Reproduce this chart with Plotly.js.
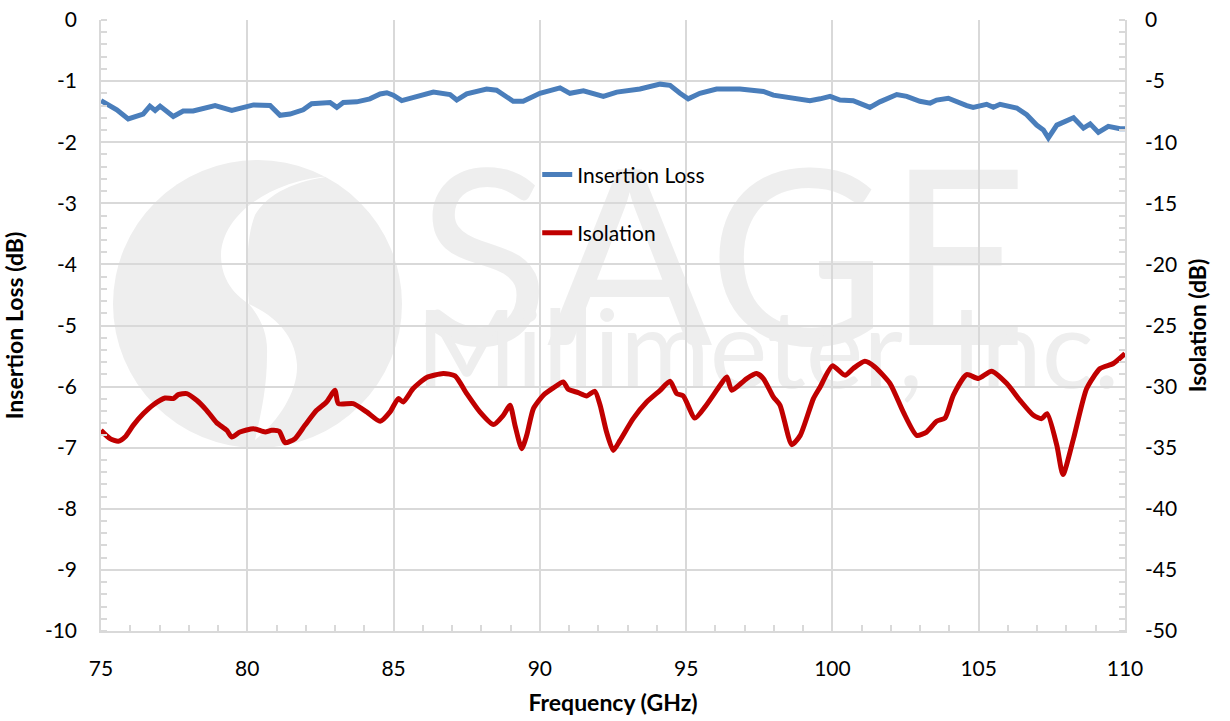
<!DOCTYPE html>
<html>
<head>
<meta charset="utf-8">
<script src="https://cdn.plot.ly/plotly-3.0.1.min.js"></script>
<style>
  html, body { margin: 0; padding: 0; background: #ffffff; }
  #wrap { position: relative; width: 1230px; height: 721px; }
  #wm, #chart { position: absolute; left: 0; top: 0; width: 1230px; height: 721px; }
  #wm { z-index: 0; }
  #chart { z-index: 1; }
</style>
</head>
<body>
<div id="wrap"><div id="wm"></div><div id="chart"></div></div>
<script>
// ---- Data ----
const ilFreq = [75.0, 75.54, 75.93, 76.44, 76.67, 76.85, 77.02, 77.47, 77.81, 78.15, 78.90, 79.47, 80.21, 80.78, 81.12, 81.46, 81.91, 82.20, 82.83, 83.06, 83.28, 83.74, 84.19, 84.54, 84.77, 84.99, 85.28, 85.56, 86.36, 86.93, 87.16, 87.50, 87.84, 88.18, 88.52, 88.87, 89.09, 89.43, 90.00, 90.69, 91.03, 91.49, 92.17, 92.63, 93.42, 94.11, 94.45, 94.79, 95.07, 95.47, 96.04, 96.84, 97.64, 97.98, 98.55, 99.23, 99.58, 99.92, 100.26, 100.71, 101.28, 101.62, 102.20, 102.54, 102.99, 103.34, 103.56, 103.96, 104.59, 104.81, 105.27, 105.50, 105.73, 106.30, 106.64, 106.98, 107.21, 107.38, 107.67, 108.01, 108.24, 108.58, 108.81, 109.09, 109.43, 109.83, 110.0];
const ilLoss = [-1.32, -1.47, -1.62, -1.54, -1.41, -1.48, -1.41, -1.58, -1.49, -1.49, -1.40, -1.48, -1.39, -1.40, -1.56, -1.54, -1.47, -1.37, -1.35, -1.43, -1.35, -1.34, -1.29, -1.21, -1.19, -1.23, -1.32, -1.28, -1.18, -1.22, -1.31, -1.21, -1.18, -1.13, -1.15, -1.26, -1.33, -1.33, -1.20, -1.11, -1.20, -1.16, -1.25, -1.18, -1.13, -1.05, -1.07, -1.20, -1.29, -1.20, -1.13, -1.13, -1.17, -1.23, -1.27, -1.32, -1.29, -1.25, -1.31, -1.32, -1.43, -1.34, -1.22, -1.25, -1.33, -1.36, -1.31, -1.28, -1.40, -1.43, -1.38, -1.43, -1.38, -1.44, -1.55, -1.72, -1.80, -1.93, -1.72, -1.65, -1.60, -1.77, -1.70, -1.84, -1.74, -1.78, -1.78];

const isoFreq = [75.0, 75.31, 75.59, 75.82, 76.10, 76.45, 76.79, 77.19, 77.47, 77.64, 77.93, 78.27, 78.61, 78.95, 79.30, 79.47, 79.75, 80.21, 80.61, 80.83, 81.09, 81.29, 81.63, 81.97, 82.37, 82.71, 83.00, 83.11, 83.62, 84.08, 84.54, 84.88, 85.16, 85.33, 85.67, 86.13, 86.70, 87.10, 87.50, 87.95, 88.41, 88.75, 88.98, 89.15, 89.38, 89.55, 89.78, 90.12, 90.46, 90.80, 90.97, 91.31, 91.60, 91.88, 92.06, 92.28, 92.51, 92.74, 93.19, 93.65, 94.11, 94.45, 94.68, 94.90, 95.30, 95.70, 96.16, 96.39, 96.56, 97.07, 97.41, 97.64, 97.98, 98.21, 98.61, 98.90, 99.35, 99.58, 100.0, 100.43, 100.71, 101.11, 101.45, 101.97, 102.42, 102.88, 103.22, 103.56, 103.85, 104.13, 104.59, 104.99, 105.44, 105.96, 106.41, 106.87, 107.15, 107.34, 107.67, 107.88, 108.24, 108.69, 109.15, 109.60, 110.0];
const isolation = [-33.58, -34.26, -34.48, -34.13, -33.17, -32.21, -31.48, -30.93, -30.98, -30.66, -30.57, -31.12, -31.94, -32.95, -33.58, -34.13, -33.72, -33.44, -33.72, -33.58, -33.66, -34.59, -34.26, -33.17, -31.94, -31.26, -30.30, -31.39, -31.39, -32.07, -32.84, -32.07, -30.98, -31.26, -30.16, -29.26, -28.93, -29.12, -30.57, -32.07, -33.11, -32.35, -31.53, -33.17, -35.08, -33.99, -31.80, -30.71, -30.11, -29.62, -30.22, -30.49, -30.76, -30.38, -31.53, -33.72, -35.22, -34.40, -32.62, -31.26, -30.30, -29.56, -30.57, -30.76, -32.57, -31.48, -29.89, -29.21, -30.30, -29.34, -28.93, -29.34, -30.84, -31.53, -34.75, -33.99, -30.98, -30.03, -28.30, -29.07, -28.52, -27.93, -28.39, -29.75, -32.07, -33.99, -33.72, -32.84, -32.57, -30.71, -29.02, -29.34, -28.74, -29.75, -31.12, -32.35, -32.62, -32.21, -34.81, -37.20, -34.26, -30.16, -28.52, -28.11, -27.30];

const seriesNames = ["Insertion Loss", "Isolation"];
const xTitle = "Frequency (GHz)";
const yTitle = "Insertion Loss (dB)";
const y2Title = "Isolation (dB)";
const yTickVals = [0, -1, -2, -3, -4, -5, -6, -7, -8, -9, -10];
const yTickText = ["0", "-1", "-2", "-3", "-4", "-5", "-6", "-7", "-8", "-9", "-10"];
const y2TickVals = [0, -5, -10, -15, -20, -25, -30, -35, -40, -45, -50];
const y2TickText = ["0", "-5", "-10", "-15", "-20", "-25", "-30", "-35", "-40", "-45", "-50"];
const wmTitle = "SAGE";
const wmSub = "Millimeter, Inc.";

// ---- Watermark (background layer) ----
const WM = "#eeeeee";
Plotly.newPlot("wm", [], {
  width: 1230, height: 721,
  margin: {l: 0, r: 0, t: 0, b: 0},
  paper_bgcolor: "#ffffff", plot_bgcolor: "#ffffff",
  xaxis: {range: [0, 1230], visible: false, fixedrange: true},
  yaxis: {range: [721, 0], visible: false, fixedrange: true},
  showlegend: false,
  shapes: [
    {type: "circle", xref: "x", yref: "y", x0: 113, x1: 402, y0: 160, y1: 448, fillcolor: WM, line: {width: 0}},
    {type: "path", xref: "x", yref: "y", path: "M 332,176 C 270,180 222,215 221,255 C 221,280 235,295 249,304 C 247,280 245,240 255,215 C 268,193 295,181 332,176 Z", fillcolor: "#ffffff", line: {width: 0}},
    {type: "path", xref: "x", yref: "y", path: "M 249,304 C 262,320 268,335 267,355 C 267,385 262,410 255,440 C 280,420 298,390 297,365 C 296,340 280,318 249,304 Z", fillcolor: "#ffffff", line: {width: 0}}
  ],
  annotations: [
    {x: 723, y: 250, xref: "x", yref: "y", text: wmTitle, showarrow: false, xanchor: "center", yanchor: "middle",
     font: {family: "Lato, 'Open Sans', sans-serif", size: 245, color: WM}},
    {x: 768, y: 345, xref: "x", yref: "y", text: wmSub, showarrow: false, xanchor: "center", yanchor: "middle",
     font: {family: "Lato, 'Open Sans', sans-serif", size: 109, color: WM}}
  ]
}, {staticPlot: true, displayModeBar: false});

// ---- Main chart ----
const FONT = "Lato, 'Liberation Sans', sans-serif";
const GRID = "#d9d9d9";
const traces = [
  {x: ilFreq, y: ilLoss, name: seriesNames[0], type: "scatter", mode: "lines", yaxis: "y",
   legendgroup: "a", line: {color: "#4a7ebb", width: 5}},
  {x: isoFreq, y: isolation, name: seriesNames[1], type: "scatter", mode: "lines", yaxis: "y2",
   legendgroup: "b", line: {color: "#c00000", width: 5, shape: "spline", smoothing: 0.6}}
];

const layout = {
  width: 1230, height: 721,
  margin: {l: 101, r: 105, t: 20, b: 90},
  paper_bgcolor: "rgba(0,0,0,0)", plot_bgcolor: "rgba(0,0,0,0)",
  font: {family: FONT, size: 21, color: "#000000"},
  showlegend: true,
  legend: {x: 0.426, y: 0.780, xanchor: "left", yanchor: "top", bgcolor: "rgba(0,0,0,0)",
           font: {family: FONT, size: 21, color: "#000000"}, tracegroupgap: 28, traceorder: "grouped"},
  xaxis: {
    range: [75, 110], dtick: 5, tick0: 75,
    showgrid: true, gridcolor: GRID, gridwidth: 1.5,
    showline: true, linecolor: GRID, linewidth: 1.5,
    ticks: "", ticklabelstandoff: 18, zeroline: false,
    minor: {dtick: 1, ticks: "inside", ticklen: 6, tickcolor: GRID, tickwidth: 1.5, showgrid: false},
    tickfont: {family: FONT, size: 21, color: "#000000"},
    title: {text: xTitle, font: {family: FONT, size: 23, color: "#000000", weight: "bold"}, standoff: 16}
  },
  yaxis: {
    range: [-10, 0], tickmode: "array", tickvals: yTickVals, ticktext: yTickText,
    showgrid: true, gridcolor: GRID, gridwidth: 1.5,
    showline: true, linecolor: GRID, linewidth: 1.5,
    ticks: "", ticklabelstandoff: 18, zeroline: false,
    minor: {dtick: 0.2, ticks: "inside", ticklen: 6, tickcolor: GRID, tickwidth: 1.5, showgrid: false},
    tickfont: {family: FONT, size: 21, color: "#000000"},
    title: {text: yTitle, font: {family: FONT, size: 23, color: "#000000", weight: "bold"}, standoff: 15}
  },
  yaxis2: {
    range: [-50, 0], overlaying: "y", side: "right", tickmode: "array", tickvals: y2TickVals, ticktext: y2TickText,
    showgrid: false, showline: true, linecolor: GRID, linewidth: 1.5,
    ticks: "", ticklabelstandoff: 14, zeroline: false,
    minor: {dtick: 1, ticks: "inside", ticklen: 6, tickcolor: GRID, tickwidth: 1.5, showgrid: false},
    tickfont: {family: FONT, size: 21, color: "#000000"},
    title: {text: y2Title, font: {family: FONT, size: 23, color: "#000000", weight: "bold"}, standoff: 14}
  }
};

Plotly.newPlot("chart", traces, layout, {displayModeBar: false});
</script>
</body>
</html>
